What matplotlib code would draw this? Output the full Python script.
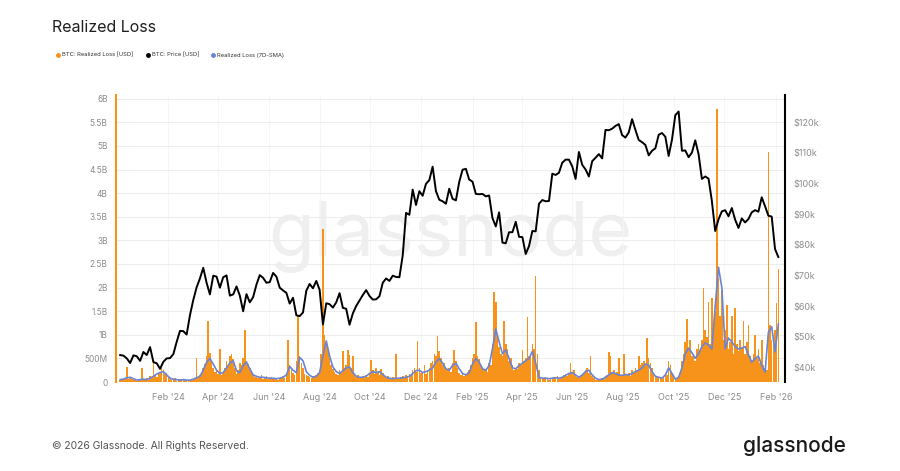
import matplotlib
matplotlib.use("Agg")
import matplotlib.pyplot as plt
import matplotlib.dates as mdates
from matplotlib.lines import Line2D
from matplotlib.ticker import FixedLocator, FuncFormatter
import pandas as pd

plt.rcParams['font.family'] = ['Inter', 'DejaVu Sans']

# BTC price in $k, one reading every 4 days starting 2023-12-05
btc_price = [
    44.0, 43.8, 42.9, 41.4, 43.9, 43.6, 42.1,
    45.0, 44.0, 46.6, 41.7, 41.3, 39.5, 41.8, 42.9,
    43.0, 44.3, 48.3, 51.9, 51.8, 50.7, 57.0,
    62.0, 66.1, 69.0, 72.5, 67.6, 63.8, 69.9, 69.6,
    66.0, 69.4, 70.0, 63.4, 63.8, 66.4, 63.4,
    58.3, 63.9, 61.2, 62.9, 67.0, 70.1, 69.2, 67.6,
    67.8, 70.8, 69.6, 66.0, 65.1, 64.3, 60.8, 62.7,
    57.0, 56.7, 57.9, 65.0, 67.2, 65.8, 68.2,
    65.3, 54.0, 60.9, 60.6, 59.5, 61.2, 64.2, 59.4,
    59.1, 53.9, 57.6, 60.0, 61.8, 63.6, 65.2, 63.3,
    62.1, 62.2, 63.2, 67.6, 69.0, 68.2, 69.9,
    69.5, 69.4, 76.5, 90.4, 89.8, 98.0, 93.0, 97.5,
    96.0, 99.9, 101.1, 105.5, 97.5, 94.7, 94.2, 93.4,
    98.3, 95.0, 94.5, 100.5, 104.5, 104.8, 101.3,
    100.6, 96.6, 96.5, 96.6, 95.8, 96.1, 88.7,
    86.0, 90.6, 80.7, 80.5, 84.1, 84.1, 87.5, 82.6,
    82.5, 77.0, 79.6, 84.5, 84.4, 93.4, 94.6, 94.2,
    94.3, 103.2, 102.8, 103.5, 106.8, 107.8, 107.8,
    105.6, 101.5, 110.3, 106.1, 104.6, 102.3, 107.3, 108.4,
    109.6, 108.2, 117.5, 117.4, 117.9, 118.8, 119.4, 115.8,
    115.0, 116.7, 121.0, 117.5, 114.2, 113.5, 112.6,
    109.2, 110.7, 111.5, 115.9, 116.5, 115.3, 109.0, 114.3,
    122.3, 123.5, 110.7, 110.8, 108.6, 110.1, 114.1, 109.6,
    101.5, 102.3, 101.6, 94.3, 84.5, 88.3, 90.9,
    91.3, 89.3, 92.0, 88.2, 85.5, 88.6, 87.3, 88.4,
    90.6, 91.3, 90.8, 95.5, 92.6, 89.5, 89.2, 78.6,
    76.0,
]

# realized loss in $B, one bar per 2 days starting 2023-12-05
realized_loss = [
    0.04, 0.06, 0.05, 0.08, 0.32, 0.07, 0.10, 0.06, 0.04, 0.05, 0.03, 0.05, 0.07, 0.30, 0.06, 0.04, 0.08, 0.05, 0.12, 0.09,
    0.42, 0.15, 0.10, 0.18, 0.22, 0.30, 0.25, 0.16, 0.20, 0.12, 0.06, 0.04, 0.05, 0.08, 0.03, 0.04, 0.06, 0.05, 0.04, 0.07,
    0.03, 0.05, 0.04, 0.06, 0.04, 0.08, 0.50, 0.10, 0.14, 0.18, 0.30, 0.38, 0.55, 1.30, 0.62, 0.45, 0.30, 0.22, 0.28, 0.16,
    0.70, 0.15, 0.22, 0.30, 0.45, 0.35, 0.55, 0.60, 0.48, 0.30, 0.18, 0.25, 0.40, 0.35, 0.50, 1.10, 0.45, 0.38, 0.30, 0.20,
    0.15, 0.10, 0.12, 0.08, 0.10, 0.14, 0.07, 0.09, 0.12, 0.06, 0.08, 0.10, 0.07, 0.09, 0.06, 0.05, 0.08, 0.10, 0.12, 0.09,
    0.18, 0.90, 0.35, 0.28, 0.20, 0.15, 0.45, 1.42, 0.55, 0.40, 0.30, 0.18, 0.15, 0.12, 0.10, 0.08, 0.12, 0.10, 0.15, 0.20,
    0.25, 0.60, 3.25, 1.00, 0.85, 0.70, 0.50, 0.35, 0.28, 0.22, 0.18, 0.15, 0.25, 0.20, 0.65, 0.30, 0.35, 0.68, 0.57, 0.30,
    0.55, 0.15, 0.10, 0.14, 0.08, 0.10, 0.12, 0.09, 0.15, 0.10, 0.20, 0.47, 0.25, 0.18, 0.30, 0.22, 0.15, 0.28, 0.20, 0.12,
    0.08, 0.12, 0.06, 0.08, 0.10, 0.07, 0.60, 0.09, 0.06, 0.10, 0.12, 0.08, 0.14, 0.10, 0.18, 0.15, 0.25, 0.30, 0.22, 0.87,
    0.30, 0.20, 0.22, 0.35, 0.18, 0.25, 0.30, 0.40, 0.45, 0.60, 0.55, 0.97, 0.65, 0.50, 0.35, 0.40, 0.28, 0.25, 0.30, 0.22,
    0.40, 0.68, 0.45, 0.30, 0.20, 0.15, 0.18, 0.12, 0.15, 0.22, 0.25, 0.35, 0.50, 0.60, 1.27, 0.55, 0.48, 0.35, 0.30, 0.25,
    0.28, 0.22, 0.40, 0.35, 0.80, 1.90, 1.70, 1.00, 0.75, 0.60, 0.55, 1.30, 0.80, 0.70, 0.45, 0.50, 0.35, 0.25, 0.30, 0.28,
    0.40, 0.35, 0.68, 0.45, 0.50, 1.38, 0.55, 0.60, 0.80, 0.70, 2.25, 0.60, 0.25, 0.10, 0.08, 0.06, 0.10, 0.07, 0.05, 0.08,
    0.06, 0.10, 0.08, 0.12, 0.07, 0.09, 0.10, 0.14, 0.18, 0.12, 0.20, 0.40, 0.22, 0.25, 0.15, 0.10, 0.08, 0.12, 0.15, 0.20,
    0.25, 0.30, 0.20, 0.55, 0.12, 0.08, 0.05, 0.04, 0.06, 0.05, 0.08, 0.07, 0.12, 0.15, 0.64, 0.55, 0.20, 0.25, 0.18, 0.22,
    0.50, 0.15, 0.12, 0.60, 0.18, 0.15, 0.20, 0.12, 0.25, 0.20, 0.30, 0.25, 0.55, 0.35, 0.40, 0.45, 0.38, 0.93, 0.50, 0.40,
    0.30, 0.15, 0.10, 0.12, 0.08, 0.10, 0.06, 0.08, 0.20, 0.15, 0.45, 0.35, 0.20, 0.15, 0.05, 0.08, 0.12, 0.20, 0.45, 0.60,
    0.85, 1.33, 0.70, 0.90, 0.55, 0.60, 0.45, 0.70, 0.80, 0.65, 0.90, 2.00, 1.10, 0.95, 1.70, 0.80, 1.78, 1.20, 1.50, 5.78,
    2.20, 1.40, 1.95, 0.90, 1.10, 1.63, 0.70, 0.85, 1.40, 0.60, 1.57, 0.80, 0.65, 0.90, 0.75, 1.30, 0.60, 0.85, 1.20, 0.55,
    0.45, 0.60, 1.00, 0.50, 0.70, 0.40, 0.90, 0.35, 0.30, 0.25, 4.87, 1.20, 0.90, 0.80, 1.10, 1.67, 2.40,
]

# 7D-SMA of realized loss in $B, one reading every 4 days starting 2023-12-05
loss_sma = [
    0.05, 0.06, 0.09, 0.10, 0.07, 0.04, 0.05, 0.06, 0.05, 0.08,
    0.12, 0.17, 0.20, 0.22, 0.15, 0.08, 0.06, 0.05, 0.04, 0.05,
    0.04, 0.04, 0.06, 0.09, 0.12, 0.25, 0.42, 0.50, 0.38, 0.25,
    0.18, 0.20, 0.30, 0.40, 0.45, 0.24, 0.20, 0.35, 0.42, 0.28,
    0.15, 0.12, 0.10, 0.10, 0.09, 0.08, 0.08, 0.07, 0.08, 0.10,
    0.15, 0.33, 0.25, 0.20, 0.52, 0.45, 0.22, 0.14, 0.10, 0.12,
    0.20, 0.55, 0.87, 0.55, 0.32, 0.22, 0.18, 0.24, 0.30, 0.32,
    0.20, 0.12, 0.10, 0.10, 0.12, 0.18, 0.22, 0.20, 0.22, 0.16,
    0.10, 0.08, 0.07, 0.08, 0.08, 0.09, 0.10, 0.12, 0.18, 0.24,
    0.25, 0.20, 0.22, 0.25, 0.30, 0.42, 0.50, 0.40, 0.28, 0.25,
    0.35, 0.40, 0.28, 0.18, 0.15, 0.20, 0.38, 0.50, 0.42, 0.28,
    0.25, 0.35, 0.70, 1.12, 0.85, 0.60, 0.68, 0.50, 0.30, 0.28,
    0.35, 0.40, 0.45, 0.50, 0.65, 0.40, 0.10, 0.08, 0.08, 0.07,
    0.08, 0.09, 0.08, 0.10, 0.14, 0.18, 0.20, 0.15, 0.10, 0.15,
    0.22, 0.25, 0.15, 0.08, 0.05, 0.06, 0.10, 0.15, 0.20, 0.18,
    0.15, 0.14, 0.16, 0.15, 0.18, 0.22, 0.25, 0.30, 0.38, 0.36,
    0.22, 0.12, 0.10, 0.08, 0.15, 0.30, 0.18, 0.06, 0.10, 0.30,
    0.60, 0.72, 0.62, 0.50, 0.60, 0.75, 0.83, 0.78, 0.70, 1.60,
    2.43, 2.00, 0.70, 0.93, 0.85, 0.75, 0.70, 0.72, 0.75, 0.58,
    0.42, 0.50, 0.55, 0.35, 0.21, 1.05, 1.17, 0.64, 1.23,
]

left_ticks = [0, 0.5, 1, 1.5, 2, 2.5, 3, 3.5, 4, 4.5, 5, 5.5, 6]
right_ticks = [40, 50, 60, 70, 80, 90, 100, 110, 120]
month_ticks = pd.date_range('2024-02-01', '2026-02-01', freq='2MS')

price_dates = pd.date_range('2023-12-05', periods=len(btc_price), freq='4D')
loss_dates = pd.date_range('2023-12-05', periods=len(realized_loss), freq='2D')
sma_dates = pd.date_range('2023-12-05', periods=len(loss_sma), freq='4D')

ORANGE = '#F7931A'
BLUE = '#6A84D6'
GRID = '#EDEDED'
TICK = '#8C8C8C'

W, H = 900, 471
fig = plt.figure(figsize=(W / 100, H / 100), dpi=100)
ax = fig.add_axes([116 / W, 1 - 382 / H, (785 - 116) / W, (382 - 95) / H])
ax2 = ax.twinx()

# watermark
ax.text(0.5, 0.51, 'glassnode', transform=ax.transAxes, ha='center', va='center',
        fontsize=54, color='#EFEFEF', zorder=0)

ax.bar(loss_dates, realized_loss, width=1.9, color=ORANGE, linewidth=0, zorder=2)
ax.plot(sma_dates, loss_sma, color=BLUE, lw=1.2, zorder=3)
ax2.plot(price_dates, btc_price, color='black', lw=1.4)

ax.set_xlim(pd.Timestamp('2023-11-30'), pd.Timestamp('2026-02-12'))
ax.set_ylim(0, 6.08)
ax2.set_ylim(35.2, 128.9)

def fmt_loss(v, pos):
    if v == 0:
        return '0'
    if v < 1:
        return f'{v * 1000:.0f}M'
    return f'{v:g}B'

ax.yaxis.set_major_locator(FixedLocator(left_ticks))
ax.yaxis.set_major_formatter(FuncFormatter(fmt_loss))
ax2.yaxis.set_major_locator(FixedLocator(right_ticks))
ax2.yaxis.set_major_formatter(FuncFormatter(lambda v, p: f'${v:.0f}k'))

ax.xaxis.set_major_locator(FixedLocator(mdates.date2num(month_ticks)))
ax.xaxis.set_major_formatter(mdates.DateFormatter("%b '%y"))

ax.tick_params(axis='y', length=0, labelsize=6, labelcolor=TICK, pad=6)
ax.tick_params(axis='x', length=0, labelsize=6.5, labelcolor=TICK, pad=8)
ax2.tick_params(axis='y', length=0, labelsize=6.5, labelcolor=TICK, pad=6)

ax.yaxis.grid(True, color=GRID, lw=0.8)
ax.xaxis.grid(True, color='#F5F5F5', lw=0.6)
ax.set_axisbelow(True)

for s in ['top', 'right', 'bottom']:
    ax.spines[s].set_visible(False)
ax.spines['left'].set_color(ORANGE)
ax.spines['left'].set_linewidth(1.5)
for s in ['top', 'left', 'bottom']:
    ax2.spines[s].set_visible(False)
ax2.spines['right'].set_color('black')
ax2.spines['right'].set_linewidth(1.5)

# title and legend
fig.text(52 / W, 1 - 28 / H, 'Realized Loss', fontsize=11.5, va='center', color='#1F1F1F')
legend_items = [(58, ORANGE, 'BTC: Realized Loss [USD]'),
                (148, 'black', 'BTC: Price [USD]'),
                (213, BLUE, 'Realized Loss (7D-SMA)')]
for x, c, label in legend_items:
    fig.add_artist(Line2D([x / W], [1 - 55 / H], marker='o', markersize=2.5,
                          color=c, linestyle='none', transform=fig.transFigure))
    fig.text((x + 4) / W, 1 - 55 / H, label, fontsize=4.2, va='center', color='#333333')

# footer
fig.text(52 / W, 1 - 446 / H, '\u00a9 2026 Glassnode. All Rights Reserved.',
         fontsize=7.5, va='center', color='#555555')
fig.text(846 / W, 1 - 446 / H, 'glassnode', fontsize=15, ha='right', va='center',
         color='#1A1A1A', fontweight='medium')

fig.savefig('out.png', dpi=100)
